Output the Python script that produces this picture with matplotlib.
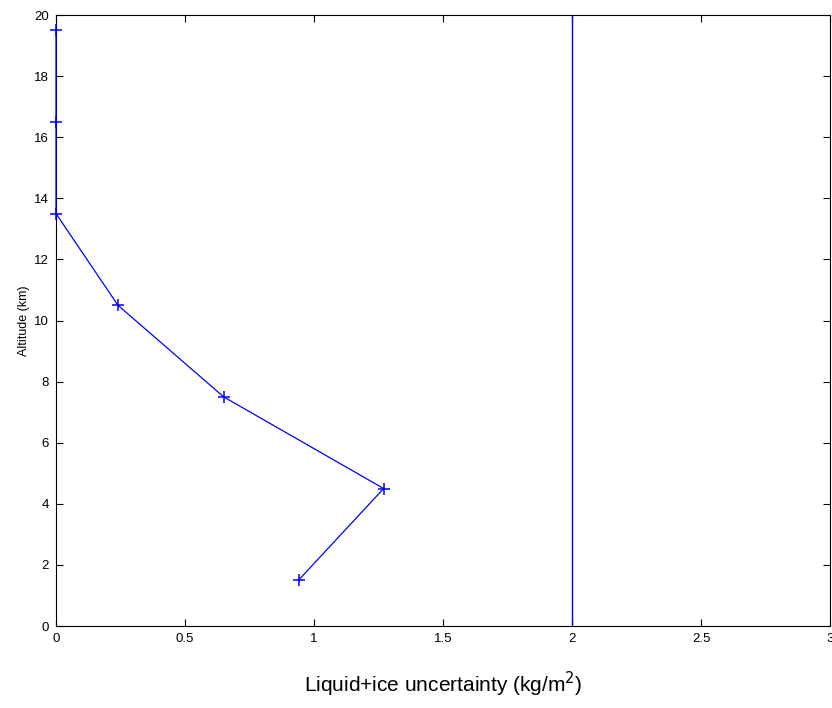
import matplotlib
matplotlib.use('Agg')
import matplotlib.pyplot as plt

# Profile data
uncertainty = [0.94, 1.27, 0.65, 0.24, 0.0, 0.0, 0.0]
altitude = [1.5, 4.5, 7.5, 10.5, 13.5, 16.5, 19.5]
threshold_x = 2.0

x_ticks = [0, 0.5, 1, 1.5, 2, 2.5, 3]
y_ticks = [0, 2, 4, 6, 8, 10, 12, 14, 16, 18, 20]

plt.rcParams['font.family'] = ['Liberation Sans', 'DejaVu Sans']

fig = plt.figure(figsize=(8.32, 7.08), dpi=100)
ax = fig.add_axes([0.0673, 0.1158, 0.9303, 0.863])

ax.plot(uncertainty, altitude, color='blue', linewidth=0.9, marker='+',
        markersize=9, markeredgewidth=1.1, clip_on=False, zorder=5)
ax.axvline(threshold_x, color='blue', linewidth=1.0)

ax.set_xlim(0, 3)
ax.set_ylim(0, 20)
ax.set_xticks(x_ticks)
ax.set_xticklabels(['0', '0.5', '1', '1.5', '2', '2.5', '3'])
ax.set_yticks(y_ticks)
ax.tick_params(direction='in', length=5, width=0.8, labelsize=9.5,
               top=True, right=True, pad=5)
for s in ax.spines.values():
    s.set_linewidth(0.8)

ax.set_ylabel('Altitude (km)', fontsize=9, labelpad=3)
ax.set_xlabel('Liquid+ice uncertainty (kg/m$^2$)', fontsize=15, labelpad=18)

fig.savefig('out.png', dpi=100)
